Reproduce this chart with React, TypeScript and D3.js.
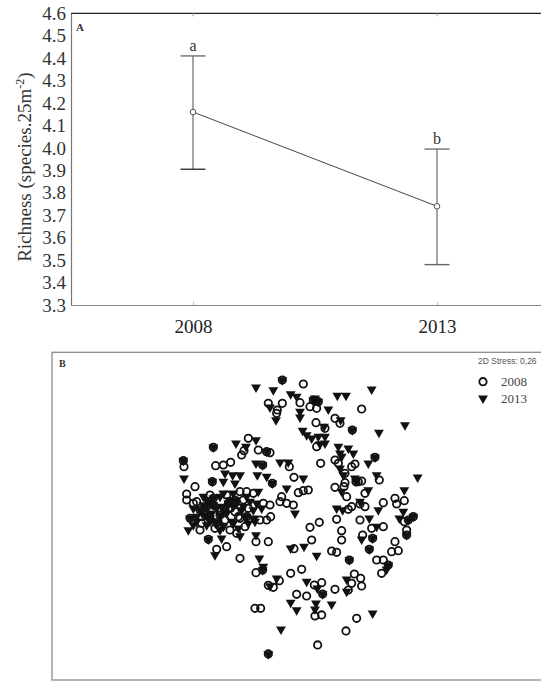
import React, { useRef, useEffect } from 'react';
import * as d3 from 'd3';

// Panel A: mean richness per year with confidence interval
const years = ['2008', '2013'];
const meanRichness = [4.16, 3.74];
const lowerCI = [3.905, 3.48];
const upperCI = [4.41, 3.995];
const groupLetters = ['a', 'b'];
const yTicks = [3.3, 3.4, 3.5, 3.6, 3.7, 3.8, 3.9, 4.0, 4.1, 4.2, 4.3, 4.4, 4.5, 4.6];

// Panel B: NMDS scores
const only2008: [number, number][] = [
  [-0.02, 0.796], [-0.23, 0.68], [-0.146, 0.68], [-0.176, 0.64], [-0.18, 0.62], [-0.04, 0.684], [0.02, 0.66],
  [0.06, 0.65], [0.33, 0.646], [0.17, 0.59], [0.2, 0.56], [0.056, 0.564], [0.11, 0.53], [0.06, 0.42], [0.084, 0.32],
  [-0.35, 0.47], [-0.29, 0.4], [-0.22, 0.384], [-0.376, 0.396], [-0.39, 0.37], [-0.736, 0.3], [-0.546, 0.306],
  [-0.5, 0.31], [-0.456, 0.326], [-0.104, 0.3], [-0.67, 0.18], [-0.076, 0.236], [-0.72, 0.136], [-0.05, 0.144],
  [-0.02, 0.156], [0.01, 0.16], [-0.15, 0.12], [-0.72, 0.1], [-0.66, 0.09], [-0.48, 0.13], [-0.4, 0.15],
  [-0.36, 0.15], [-0.32, 0.14], [-0.38, 0.1], [-0.43, 0.03], [-0.35, 0.05], [-0.63, -0.04], [-0.49, -0.02],
  [-0.4, -0.01], [-0.28, -0.02], [-0.64, -0.08], [-0.55, -0.07], [-0.46, -0.08], [-0.37, -0.06], [-0.42, -0.1],
  [-0.304, -0.15], [-0.23, -0.15], [-0.54, -0.196], [-0.48, -0.18], [-0.4, -0.25], [-0.26, 0.08], [-0.22, 0.07],
  [-0.16, 0.09], [-0.12, 0.08], [-0.08, 0.07], [-0.24, -0.02], [-0.216, 0], [0.17, 0.34], [0.19, 0.32],
  [0.29, 0.316], [0.27, 0.3], [0.23, 0.26], [0.31, 0.21], [0.33, 0.214], [0.436, 0.22], [0.17, 0.176],
  [0.224, 0.18], [0.23, 0.204], [0.35, 0.14], [0.24, 0.12], [0.53, 0.11], [0.586, 0.096], [0.46, 0.084],
  [0.54, 0.076], [0.27, 0.06], [0.25, 0.044], [0.35, 0.06], [0.32, 0.076], [0.18, -0.016], [0.32, -0.02],
  [0.39, -0.07], [0.46, -0.06], [0.6, -0.08], [0.586, -0.03], [0.02, -0.064], [0.076, -0.034], [0.21, -0.084],
  [0.21, -0.14], [0.336, -0.11], [0.53, -0.15], [0.51, -0.21], [0.55, -0.204], [0.03, -0.14], [-0.076, -0.192],
  [0.15, -0.206], [0.18, -0.214], [0.42, -0.26], [0.46, -0.26], [0.45, -0.34], [-0.304, -0.336], [-0.096, -0.34],
  [-0.03, -0.316], [-0.164, -0.384], [-0.2, -0.424], [-0.23, -0.412], [0.046, -0.41], [0.09, -0.396],
  [0.17, -0.436], [0.286, -0.344], [0.324, -0.37], [0.33, -0.416], [0.27, -0.4], [-0.06, -0.466], [0, -0.476],
  [0.25, -0.44], [-0.31, -0.55], [-0.276, -0.55], [0.05, -0.596], [0.09, -0.59], [0.3, -0.61], [0.236, -0.686],
  [0.066, -0.77], [-0.58, 0.13], [-0.68, 0.08], [-0.46, 0.05], [-0.53, -0.05], [-0.63, 0.0], [-0.41, 0.0],
];

const only2013: [number, number][] = [
  [-0.304, 0.776], [-0.2, 0.76], [-0.096, 0.736], [-0.06, 0.72], [0.184, 0.726], [0.236, 0.726], [0.39, 0.764],
  [-0.22, 0.656], [-0.184, 0.58], [-0.04, 0.63], [-0.04, 0.596], [0.05, 0.71], [0.13, 0.644], [0.204, 0.58],
  [0.104, 0.54], [0.434, 0.504], [0.59, 0.55], [-0.024, 0.516], [0, 0.49], [0.03, 0.47], [0.07, 0.48],
  [0.11, 0.48], [0.08, 0.436], [0.11, 0.44], [-0.304, 0.46], [-0.424, 0.44], [-0.364, 0.42], [-0.736, 0.23],
  [-0.49, 0.26], [-0.444, 0.25], [-0.4, 0.25], [-0.304, 0.32], [-0.16, 0.326], [-0.11, 0.326], [-0.296, 0.25],
  [-0.24, 0.24], [-0.5, 0.21], [-0.43, 0.2], [-0.02, 0.23], [-0.12, 0.17], [-0.6, 0.1], [-0.52, 0.12],
  [-0.44, 0.14], [-0.29, 0.15], [-0.68, 0.05], [-0.51, 0.06], [-0.42, 0.08], [-0.34, 0.09], [-0.3, 0.08],
  [-0.66, 0], [-0.57, 0.02], [-0.48, 0.02], [-0.39, 0.04], [-0.32, 0.04], [-0.68, -0.05], [-0.58, -0.03],
  [-0.45, -0.03], [-0.32, -0.01], [-0.71, -0.08], [-0.5, -0.06], [-0.41, -0.07], [-0.31, -0.03], [-0.4, -0.116],
  [-0.51, -0.13], [-0.304, -0.11], [-0.55, -0.23], [-0.27, 0.05], [-0.07, 0.02], [0.19, 0.42], [0.25, 0.41],
  [0.2, 0.38], [0.28, 0.38], [0.21, 0.36], [0.2, 0.29], [0.37, 0.32], [0.22, 0.25], [0.29, 0.23], [0.42, 0.25],
  [0.666, 0.236], [0.21, 0.15], [0.37, 0.16], [0.586, 0.16], [0.18, 0.05], [0.216, 0.04], [0.32, 0.09],
  [0.43, 0.04], [0.58, 0.03], [0.556, -0.01], [0.376, -0.01], [0.42, -0.06], [0.33, -0.136], [-0.096, -0.19],
  [-0.016, -0.18], [0.06, -0.234], [0.48, -0.316], [-0.284, -0.25], [-0.26, -0.3], [-0.18, -0.37],
  [-0.22, -0.416], [0, -0.39], [0.064, -0.43], [0.24, -0.376], [0.24, -0.45], [-0.096, -0.516], [-0.06, -0.56],
  [0.056, -0.52], [0.15, -0.526], [0.396, -0.58], [0.05, -0.556], [-0.154, -0.676],
  [-0.62, 0.07], [-0.58, 0.09], [-0.54, 0.05], [-0.46, 0.1], [-0.44, 0.06], [-0.38, 0.06], [-0.36, 0.12],
  [-0.66, -0.03], [-0.6, -0.05], [-0.52, -0.08], [-0.44, -0.04], [-0.35, -0.04], [-0.62, 0.12], [-0.5, 0.14],
];

// sites where a 2008 and a 2013 sample fall on the same spot
const overlapSites: [number, number][] = [
  [-0.146, 0.82], [0.04, 0.7], [0.07, 0.69], [0.274, 0.52], [-0.56, 0.416], [-0.24, 0.39], [-0.74, 0.336],
  [-0.264, 0.31], [-0.566, 0.21], [-0.206, 0.2], [-0.56, 0.11], [-0.64, 0.04], [-0.6, 0.06], [-0.56, 0.07],
  [-0.47, 0.08], [-0.7, -0.01], [-0.61, 0.01], [-0.52, 0.01], [-0.54, -0.036], [-0.36, 0], [-0.59, -0.136],
  [0.41, 0.356], [0.296, 0.21], [0.61, -0.02], [0.64, 0], [0.6, -0.11], [0.396, -0.13], [0.376, -0.196],
  [0.256, -0.26], [0.49, -0.29], [-0.264, -0.32], [0.096, -0.464], [-0.23, -0.824],
  [-0.49, 0.04], [-0.58, -0.01], [-0.43, 0.1],
];

const legendYears = ['2008', '2013'];
const stressLabel = '2D Stress: 0,26';

const serif = '"Liberation Serif", "Times New Roman", serif';

const App = () => {
  const ref = useRef<SVGSVGElement>(null);

  useEffect(() => {
    const svg = d3.select(ref.current);
    svg.selectAll('*').remove();

    // ---------- Panel A ----------
    const x = d3.scalePoint<string>().domain(years).range([71, 559]).padding(0.5);
    const y = d3.scaleLinear().domain([3.3, 4.6]).range([305, 13.3]);

    const a = svg.append('g');

    // top border
    a.append('line')
      .attr('x1', 71).attr('x2', 541)
      .attr('y1', y(4.6)).attr('y2', y(4.6))
      .attr('stroke', '#222').attr('stroke-width', 1.3);

    // bottom axis
    const xAxis = a.append('g')
      .attr('transform', `translate(0, ${y(3.3)})`)
      .call(d3.axisBottom(x).tickSize(-3).tickSizeOuter(0).tickPadding(10));
    xAxis.select('.domain').attr('stroke', '#888').attr('stroke-width', 1.2);
    xAxis.selectAll('.tick line').attr('stroke', '#bbb');
    xAxis.selectAll('text')
      .attr('font-family', serif).attr('font-size', 19).attr('fill', '#222')
      .attr('dy', '0.95em');

    // top ticks
    a.selectAll('.topTick')
      .data(years)
      .enter().append('line')
      .attr('x1', d => x(d)!).attr('x2', d => x(d)!)
      .attr('y1', y(4.6)).attr('y2', y(4.6) + 3)
      .attr('stroke', '#999');

    // left axis
    const yAxis = a.append('g')
      .attr('transform', 'translate(71, 0)')
      .call(d3.axisLeft(y).tickValues(yTicks).tickFormat(d3.format('.1f')).tickSize(0).tickPadding(5));
    yAxis.select('.domain').attr('stroke', '#777').attr('stroke-width', 1.2);
    yAxis.selectAll('text')
      .attr('font-family', serif).attr('font-size', 19).attr('fill', '#333');

    // y label
    const yl = a.append('text')
      .attr('transform', `translate(31, ${(y(3.3) + y(4.6)) / 2 + 8}) rotate(-90)`)
      .attr('text-anchor', 'middle')
      .attr('font-family', serif).attr('font-size', 19).attr('fill', '#333');
    yl.append('tspan').text('Richness (species.25m');
    yl.append('tspan').attr('dy', -7).attr('font-size', 12).text('-2');
    yl.append('tspan').attr('dy', 7).text(')');

    a.append('text')
      .attr('x', 76).attr('y', 31)
      .attr('font-family', serif).attr('font-size', 11).attr('font-weight', 'bold').attr('fill', '#333')
      .text('A');

    // connecting line
    const line = d3.line<number>()
      .x((_, i) => x(years[i])!)
      .y(d => y(d));
    a.append('path')
      .datum(meanRichness)
      .attr('d', line)
      .attr('fill', 'none').attr('stroke', '#333').attr('stroke-width', 0.9);

    const bars = a.selectAll('.bar')
      .data(years)
      .enter().append('g');

    bars.append('line')
      .attr('x1', d => x(d)!).attr('x2', d => x(d)!)
      .attr('y1', (_, i) => y(lowerCI[i])).attr('y2', (_, i) => y(upperCI[i]))
      .attr('stroke', '#777').attr('stroke-width', 1.3);
    bars.append('line')
      .attr('x1', d => x(d)! - 12.5).attr('x2', d => x(d)! + 12.5)
      .attr('y1', (_, i) => y(upperCI[i])).attr('y2', (_, i) => y(upperCI[i]))
      .attr('stroke', '#666').attr('stroke-width', 1.3);
    bars.append('line')
      .attr('x1', d => x(d)! - 12.5).attr('x2', d => x(d)! + 12.5)
      .attr('y1', (_, i) => y(lowerCI[i])).attr('y2', (_, i) => y(lowerCI[i]))
      .attr('stroke', (_, i) => (i === 0 ? '#333' : '#666')).attr('stroke-width', 1.4);
    bars.append('circle')
      .attr('cx', d => x(d)!).attr('cy', (_, i) => y(meanRichness[i]))
      .attr('r', 2.8)
      .attr('fill', '#fff').attr('stroke', '#555').attr('stroke-width', 1);
    bars.append('text')
      .attr('x', d => x(d)!).attr('y', (_, i) => y(upperCI[i]) - 5)
      .attr('text-anchor', 'middle')
      .attr('font-family', serif).attr('font-size', 16).attr('fill', '#333')
      .text((_, i) => groupLetters[i]);

    // ---------- Panel B ----------
    const nx = d3.scaleLinear().domain([-1, 1]).range([140, 473.3]);
    const ny = d3.scaleLinear().domain([-1, 1]).range([683.3, 350]);

    const b = svg.append('g');
    b.append('rect')
      .attr('x', 52).attr('y', 352.3).attr('width', 500).attr('height', 327.7)
      .attr('fill', 'none').attr('stroke', '#8a8a8a').attr('stroke-width', 1.3);

    b.append('text')
      .attr('x', 59).attr('y', 366.5)
      .attr('font-family', serif).attr('font-size', 10).attr('font-weight', 'bold').attr('fill', '#333')
      .text('B');

    b.append('text')
      .attr('x', 478).attr('y', 364)
      .attr('font-family', '"Liberation Sans", Arial, sans-serif').attr('font-size', 8.5).attr('fill', '#555')
      .text(stressLabel);

    const tri = d3.symbol().type(d3.symbolTriangle).size(42);
    const sites2008 = [...only2008, ...overlapSites];
    const sites2013 = [...only2013, ...overlapSites];

    b.selectAll('.c08')
      .data(sites2008)
      .enter().append('circle')
      .attr('cx', d => nx(d[0])).attr('cy', d => ny(d[1]))
      .attr('r', 3.7)
      .attr('fill', 'none').attr('stroke', '#111').attr('stroke-width', 1.8);

    b.selectAll('.t13')
      .data(sites2013)
      .enter().append('path')
      .attr('d', tri)
      .attr('transform', d => `translate(${nx(d[0])}, ${ny(d[1])}) rotate(180)`)
      .attr('fill', '#111');

    // legend
    const lg = b.selectAll('.lg')
      .data(legendYears)
      .enter().append('g')
      .attr('transform', (_, i) => `translate(483, ${381.7 + i * 16.6})`);
    lg.filter((_, i) => i === 0).append('circle')
      .attr('r', 3.7).attr('fill', 'none').attr('stroke', '#111').attr('stroke-width', 1.8);
    lg.filter((_, i) => i === 1).append('path')
      .attr('d', tri).attr('transform', 'rotate(180)').attr('fill', '#111');
    lg.append('text')
      .attr('x', 18).attr('y', 4.5)
      .attr('font-family', serif).attr('font-size', 13).attr('fill', '#444')
      .text(d => d);
  }, []);

  return (
    <svg
      ref={ref}
      width={541}
      height={682}
      style={{ position: 'absolute', left: 0, top: 0, background: '#fff' }}
    />
  );
};

export default App;
